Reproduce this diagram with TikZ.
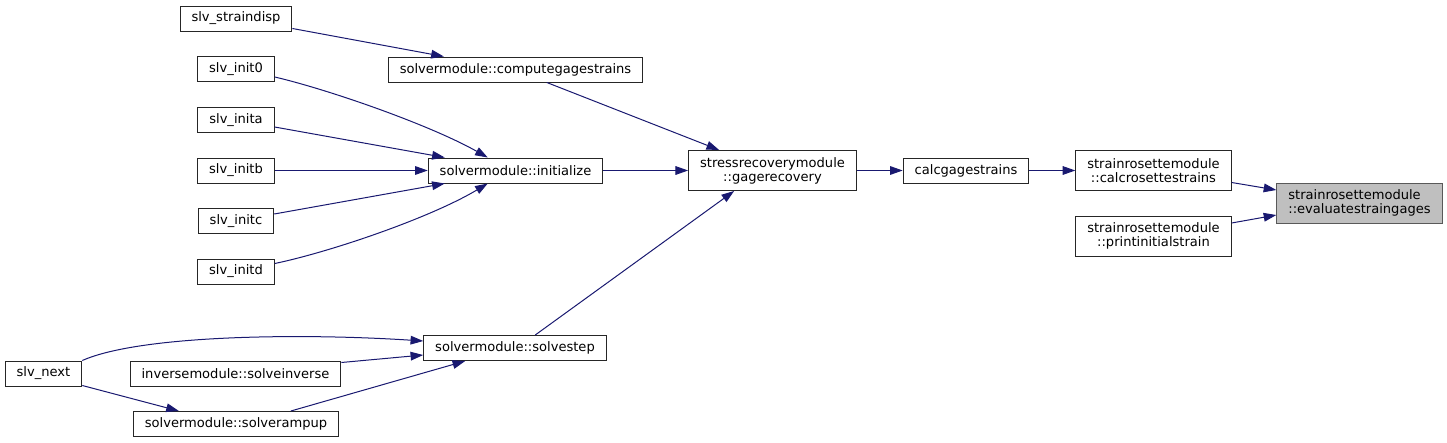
\documentclass[tikz,border=0pt]{standalone}
\usepackage{fontspec}
\setmainfont{DejaVu Sans}
\usepackage{tikz}
\usetikzlibrary{arrows.meta, positioning, calc}
\definecolor{edgeblue}{HTML}{191970}
\definecolor{rootgray}{HTML}{BFBFBF}

\begin{document}
\begin{tikzpicture}[x=0.75pt, y=-0.75pt, line width=0.75pt,
    fn/.style={rectangle, draw=black!85, fill=white, inner xsep=8.6pt, inner ysep=2pt, minimum height=18.75pt, align=center, font=\fontsize{9.8}{10.5}\selectfont},
    fntwo/.style={fn, minimum height=30pt},
    root/.style={fntwo, fill=rootgray, draw=black!65, align=left},
    call/.style={draw=edgeblue, -{Triangle[length=9.5pt, width=6.5pt]}}]

    \useasboundingbox (0,0) rectangle (1447,443);

    \node [fn] (straindisp) at (236,18.5) {slv\_straindisp};
    \node [fn] (init0) at (236,69) {slv\_init0};
    \node [fn] (inita) at (236,120) {slv\_inita};
    \node [fn] (initb) at (236,170.5) {slv\_initb};
    \node [fn] (initc) at (236,221) {slv\_initc};
    \node [fn] (initd) at (236,271.5) {slv\_initd};
    \node [fn] (next) at (43.5,373.5) {slv\_next};
    \node [fn] (solveinv) at (235.5,373.5) {inversemodule::solveinverse};
    \node [fn] (rampup) at (236,424) {solvermodule::solverampup};

    \node [fn] (computegs) at (515.5,69.5) {solvermodule::computegagestrains};
    \node [fn] (initialize) at (515.5,170.5) {solvermodule::initialize};
    \node [fn] (solvestep) at (515,348) {solvermodule::solvestep};

    \node [fntwo] (gagerec) at (772.5,170.5) {stressrecoverymodule\\::gagerecovery};
    \node [fn] (calcgs) at (966,170.5) {calcgagestrains};
    \node [fntwo] (calcros) at (1153.5,170.5) {strainrosettemodule\\::calcrosettestrains};
    \node [fntwo] (printinit) at (1153.5,236) {strainrosettemodule\\::printinitialstrain};
    \node [root] (evalgages) at (1359.5,203) {strainrosettemodule\\::evaluatestraingages};

    \draw [call] ($(straindisp.south east)+(0,-3)$) -- ($(computegs.north west)+(56,0)$);
    \draw [call] ($(computegs.south west)+(159,0)$) -- ($(gagerec.north west)+(31,0)$);

    \draw [call] ($(init0.south east)+(0,-5)$) .. controls (330,90) and (430,125) .. ($(initialize.north west)+(60,0)$);
    \draw [call] ($(inita.south east)+(0,-6)$) -- ($(initialize.north west)+(17,0)$);
    \draw [call] (initb) -- (initialize);
    \draw [call] ($(initc.north east)+(0,6)$) -- ($(initialize.south west)+(17,0)$);
    \draw [call] ($(initd.north east)+(0,5)$) .. controls (330,252) and (430,218) .. ($(initialize.south west)+(60,0)$);

    \draw [call] (initialize) -- (gagerec);
    \draw [call] ($(solvestep.north west)+(112,0)$) -- ($(gagerec.south west)+(46,0)$);

    \draw [call] (next.north east) .. controls (140,335) and (300,333) .. ($(solvestep.west)+(0,-7)$);
    \draw [call] ($(solveinv.east)+(0,-11)$) -- ($(solvestep.west)+(0,7)$);
    \draw [call] ($(rampup.north west)+(158,0)$) -- ($(solvestep.south west)+(42,0)$);
    \draw [call] ($(next.south east)+(0,-1)$) -- ($(rampup.north west)+(46,0)$);

    \draw [call] (gagerec) -- (calcgs);
    \draw [call] (calcgs) -- (calcros);
    \draw [call] ($(calcros.east)+(0,12)$) -- ($(evalgages.west)+(0,-13)$);
    \draw [call] ($(printinit.east)+(0,-13)$) -- ($(evalgages.west)+(0,12)$);
\end{tikzpicture}
\end{document}
